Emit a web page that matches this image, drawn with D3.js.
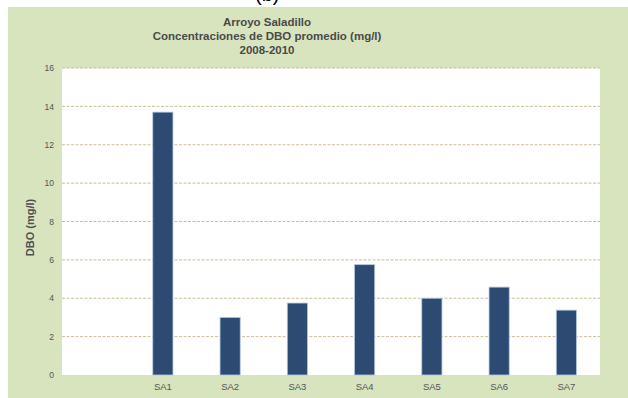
<!DOCTYPE html>
<html>
<head>
<meta charset="utf-8">
<script src="https://cdn.jsdelivr.net/npm/d3@7"></script>
<style>
  html, body { margin: 0; padding: 0; background: #fff; }
  svg { display: block; font-family: "Liberation Sans", Arial, sans-serif; }
</style>
</head>
<body>
<svg id="chart" width="628" height="398"></svg>
<script>
// Sampling stations along the stream (first slot is left empty)
const categories = ["", "SA1", "SA2", "SA3", "SA4", "SA5", "SA6", "SA7"];
// Average BOD concentration, mg/l
const dboValues = [null, 13.7, 3.0, 3.75, 5.75, 4.0, 4.58, 3.38];
const yTicks = [0, 2, 4, 6, 8, 10, 12, 14, 16];
const titleLines = ["Arroyo Saladillo", "Concentraciones  de DBO promedio (mg/l)", "2008-2010"];
const yAxisTitle = "DBO (mg/l)";

const svg = d3.select("#chart");
const plot = { left: 62, right: 600, top: 68, bottom: 375 };

// panel background
svg.append("rect")
  .attr("x", 8).attr("y", 7).attr("width", 620).attr("height", 391)
  .attr("fill", "#d7e4bd");

// panel label cut at the top edge
svg.append("text")
  .attr("x", 255).attr("y", 1)
  .attr("font-size", 20).attr("fill", "#000")
  .text("(b)");

// plot area
svg.append("rect")
  .attr("x", plot.left).attr("y", plot.top)
  .attr("width", plot.right - plot.left).attr("height", plot.bottom - plot.top)
  .attr("fill", "#ffffff");

const x = d3.scaleBand().domain(categories).range([plot.left, plot.right]).paddingInner(0.7).paddingOuter(0.35);
const y = d3.scaleLinear().domain([0, 16]).range([plot.bottom, plot.top]);

// dashed gridlines
svg.append("g")
  .selectAll("line")
  .data(yTicks.filter(d => d > 0))
  .join("line")
  .attr("x1", plot.left).attr("x2", plot.right)
  .attr("y1", d => y(d)).attr("y2", d => y(d))
  .attr("stroke", "#cbbf98").attr("stroke-width", 1)
  .attr("stroke-dasharray", "3,1.5");

// y axis
const yAxis = svg.append("g")
  .attr("transform", `translate(${plot.left},0)`)
  .call(d3.axisLeft(y).tickValues(yTicks).tickSize(0).tickPadding(8));
yAxis.select(".domain").remove();
yAxis.selectAll("text").attr("font-size", 8.5).attr("fill", "#555").attr("font-family", "Liberation Sans, Arial, sans-serif");

// x axis
const xAxis = svg.append("g")
  .attr("transform", `translate(0,${plot.bottom})`)
  .call(d3.axisBottom(x).tickSize(0).tickPadding(8));
xAxis.select(".domain").remove();
xAxis.selectAll("text").attr("font-size", 9.5).attr("fill", "#555").attr("font-family", "Liberation Sans, Arial, sans-serif");

// bars
svg.append("g")
  .selectAll("rect")
  .data(categories.map((c, i) => ({ c, v: dboValues[i] })).filter(d => d.v != null))
  .join("rect")
  .attr("x", d => x(d.c))
  .attr("y", d => y(d.v))
  .attr("width", x.bandwidth())
  .attr("height", d => y(0) - y(d.v))
  .attr("fill", "#2c4a72")
  .attr("stroke", "#b3c6e0").attr("stroke-width", 0.8);

// title
svg.append("text")
  .attr("x", 267).attr("text-anchor", "middle")
  .attr("font-size", 11.5).attr("font-weight", "bold").attr("fill", "#4a4a4a")
  .selectAll("tspan")
  .data(titleLines)
  .join("tspan")
  .attr("x", 267)
  .attr("y", (d, i) => 26 + i * 14)
  .text(d => d);

// y axis title
svg.append("text")
  .attr("transform", `translate(34,${(plot.top + plot.bottom) / 2 + 6}) rotate(-90)`)
  .attr("text-anchor", "middle")
  .attr("font-size", 11).attr("font-weight", "bold").attr("fill", "#505050")
  .text(yAxisTitle);
</script>
</body>
</html>
